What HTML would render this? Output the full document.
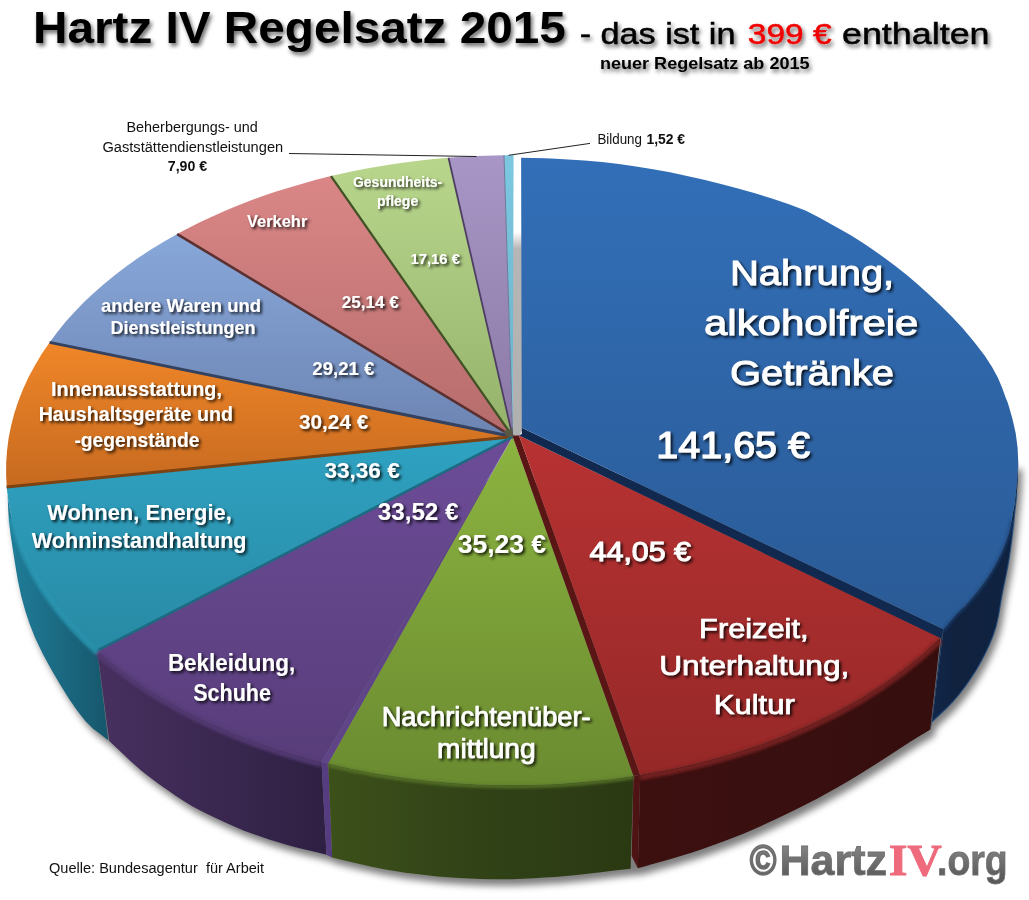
<!DOCTYPE html>
<html><head><meta charset="utf-8"><title>Hartz IV Regelsatz 2015</title>
<style>html,body{margin:0;padding:0;background:#fff;}svg{display:block;font-family:"Liberation Sans",sans-serif;}</style>
</head><body>
<svg width="1029" height="900" viewBox="0 0 1029 900">
<defs>
<filter id="blur8" x="-10%" y="-10%" width="120%" height="120%"><feGaussianBlur stdDeviation="3.5"/></filter>
<linearGradient id="gstrip" x1="0" y1="156" x2="0" y2="437" gradientUnits="userSpaceOnUse"><stop offset="0" stop-color="#ffffff"/><stop offset="0.27" stop-color="#ffffff"/><stop offset="0.33" stop-color="#b6b6b6"/><stop offset="1" stop-color="#b0b0b0"/></linearGradient>
<linearGradient id="t_cyan" x1="0" y1="155.30157526713265" x2="0" y2="436.7" gradientUnits="userSpaceOnUse"><stop offset="0" stop-color="#7cc8e0"/><stop offset="1" stop-color="#6ab0c8"/></linearGradient>
<linearGradient id="t_lpurple" x1="0" y1="155.33934958856992" x2="0" y2="436.7" gradientUnits="userSpaceOnUse"><stop offset="0" stop-color="#a896c6"/><stop offset="1" stop-color="#8a78a6"/></linearGradient>
<linearGradient id="t_lgreen" x1="0" y1="157.79280170934533" x2="0" y2="436.7" gradientUnits="userSpaceOnUse"><stop offset="0" stop-color="#b8d68c"/><stop offset="1" stop-color="#94b26a"/></linearGradient>
<linearGradient id="t_pink" x1="0" y1="176.1424348117214" x2="0" y2="436.7" gradientUnits="userSpaceOnUse"><stop offset="0" stop-color="#da8686"/><stop offset="1" stop-color="#b66c6c"/></linearGradient>
<linearGradient id="t_lblue" x1="0" y1="234.08518140149738" x2="0" y2="436.7" gradientUnits="userSpaceOnUse"><stop offset="0" stop-color="#88a8da"/><stop offset="1" stop-color="#6c84b2"/></linearGradient>
<linearGradient id="t_orange" x1="0" y1="342.3839270958982" x2="0" y2="487.00926792572034" gradientUnits="userSpaceOnUse"><stop offset="0" stop-color="#f08628"/><stop offset="1" stop-color="#c66a20"/></linearGradient>
<linearGradient id="w_teal" x1="7" y1="0" x2="110" y2="0" gradientUnits="userSpaceOnUse"><stop offset="0" stop-color="#207e9a"/><stop offset="1" stop-color="#16566b"/></linearGradient>
<linearGradient id="w_purple" x1="100" y1="0" x2="330" y2="0" gradientUnits="userSpaceOnUse"><stop offset="0" stop-color="#47305f"/><stop offset="1" stop-color="#2e2042"/></linearGradient>
<linearGradient id="w_green" x1="330" y1="0" x2="632" y2="0" gradientUnits="userSpaceOnUse"><stop offset="0" stop-color="#3c501a"/><stop offset="0.5" stop-color="#314217"/><stop offset="1" stop-color="#2b3913"/></linearGradient>
<linearGradient id="w_red" x1="637" y1="0" x2="941" y2="0" gradientUnits="userSpaceOnUse"><stop offset="0" stop-color="#3d1010"/><stop offset="1" stop-color="#360e0e"/></linearGradient>
<linearGradient id="w_blue" x1="930" y1="0" x2="1018" y2="0" gradientUnits="userSpaceOnUse"><stop offset="0" stop-color="#11264a"/><stop offset="0.3" stop-color="#10223e"/><stop offset="1" stop-color="#0f2240"/></linearGradient>
<linearGradient id="t_teal" x1="0" y1="436.7" x2="0" y2="650.5583651108609" gradientUnits="userSpaceOnUse"><stop offset="0" stop-color="#2fa2c2"/><stop offset="1" stop-color="#288aa4"/></linearGradient>
<linearGradient id="t_purple" x1="0" y1="436.7" x2="0" y2="761.9406647277731" gradientUnits="userSpaceOnUse"><stop offset="0" stop-color="#6c4c98"/><stop offset="1" stop-color="#583d7a"/></linearGradient>
<linearGradient id="t_green" x1="0" y1="437" x2="0" y2="790" gradientUnits="userSpaceOnUse"><stop offset="0" stop-color="#8cb440"/><stop offset="1" stop-color="#6a8a30"/></linearGradient>
<linearGradient id="t_red" x1="0" y1="435.6" x2="0" y2="774.821440170264" gradientUnits="userSpaceOnUse"><stop offset="0" stop-color="#b83232"/><stop offset="1" stop-color="#962828"/></linearGradient>
<linearGradient id="t_blue" x1="0" y1="157" x2="0" y2="640" gradientUnits="userSpaceOnUse"><stop offset="0" stop-color="#326fb8"/><stop offset="1" stop-color="#2a5a95"/></linearGradient>
<filter id="blur2" x="-5%" y="-5%" width="110%" height="110%"><feGaussianBlur stdDeviation="1.6"/></filter>
<filter id="sh" x="-5%" y="-20%" width="110%" height="150%"><feGaussianBlur in="SourceAlpha" stdDeviation="1.6"/><feOffset dx="1.5" dy="2"/><feComponentTransfer><feFuncA type="linear" slope="0.85"/></feComponentTransfer><feMerge><feMergeNode/><feMergeNode in="SourceGraphic"/></feMerge></filter>
<filter id="sh2" x="-5%" y="-20%" width="110%" height="160%"><feGaussianBlur in="SourceAlpha" stdDeviation="2.2"/><feOffset dx="2" dy="3"/><feComponentTransfer><feFuncA type="linear" slope="0.6"/></feComponentTransfer><feMerge><feMergeNode/><feMergeNode in="SourceGraphic"/></feMerge></filter>
<linearGradient id="logo" x1="0" y1="845" x2="0" y2="878" gradientUnits="userSpaceOnUse"><stop offset="0" stop-color="#848484"/><stop offset="1" stop-color="#5a5a5a"/></linearGradient>
</defs>
<rect width="1029" height="900" fill="#fff"/>
<path d="M7.5 487.0 L7.7 496.2 L8.0 505.4 L8.5 515.0 L9.4 524.6 L10.6 534.7 L12.4 546.7 L14.8 562.2 L17.7 579.7 L21.3 596.4 L25.3 611.0 L29.9 624.8 L35.6 639.0 L43.1 654.5 L51.7 670.3 L60.4 685.0 L68.8 698.4 L77.1 710.6 L85.3 721.0 L93.1 728.7 L100.8 734.5 L108.4 740.4 L109.2 741.0 L120.1 751.2 L130.9 761.4 L141.1 770.4 L150.1 777.6 L158.4 783.7 L166.7 789.5 L175.2 795.4 L183.7 801.0 L192.2 806.2 L200.7 810.8 L209.3 815.0 L217.8 819.0 L226.3 823.0 L234.9 826.8 L243.4 830.4 L251.9 833.6 L260.5 836.6 L269.0 839.4 L277.3 842.0 L285.5 844.5 L294.5 847.0 L304.7 849.6 L315.6 852.1 L326.5 854.7 L332.2 857.4 L338.3 858.9 L344.5 860.4 L352.0 862.2 L361.8 864.5 L372.9 867.0 L384.1 869.3 L394.8 871.1 L405.5 872.7 L416.2 874.1 L426.9 875.3 L437.6 876.4 L448.3 877.3 L459.0 878.0 L469.7 878.5 L480.4 878.9 L491.1 879.2 L501.7 879.3 L512.4 879.2 L523.1 878.8 L533.8 878.3 L544.5 877.6 L555.2 876.9 L565.9 876.1 L576.6 875.1 L587.6 873.8 L598.7 872.4 L608.6 871.2 L616.7 870.3 L623.6 869.5 L630.6 868.8 L637.8 868.3 L645.2 866.2 L652.7 864.1 L661.0 861.7 L670.8 858.9 L681.5 855.7 L692.2 852.4 L702.6 848.9 L712.9 845.3 L723.3 841.5 L733.7 837.5 L744.0 833.4 L754.4 829.0 L764.8 824.3 L775.1 819.4 L785.5 814.4 L795.9 809.4 L806.2 804.2 L816.6 798.9 L827.0 793.3 L837.3 787.5 L847.7 781.5 L858.1 775.2 L868.4 768.8 L878.8 762.2 L889.6 755.2 L900.3 748.2 L909.9 742.0 L917.5 737.3 L923.9 733.4 L930.3 729.5 L932.0 721.7 L939.2 715.0 L946.5 708.2 L953.3 701.2 L959.6 693.7 L965.5 685.9 L971.0 678.0 L976.2 670.0 L980.9 661.7 L985.3 653.3 L989.3 644.8 L992.9 636.1 L996.0 626.6 L998.5 615.7 L1000.4 604.1 L1002.3 593.3 L1004.2 583.9 L1006.0 575.3 L1007.7 566.7 L1009.2 557.9 L1010.5 549.1 L1011.7 540.0 L1012.9 530.1 L1014.0 519.8 L1015.0 510.0 L1016.0 501.2 L1016.8 492.9 L1017.5 485.0 L1017.9 477.4 L1018.1 470.0 L1018.3 462.7Z" fill="#000" opacity="0.5" transform="translate(4,6.5)" filter="url(#blur8)"/>
<path d="M513 156 L522 156 L522 430 L519.5 436 L513 438Z" fill="url(#gstrip)"/>
<path d="M512.7 436.7 L513.6 155.3 L508.8 155.3 L504.0 155.3Z" fill="url(#t_cyan)"/>
<path d="M512.7 436.7 L504.0 155.3 L494.7 155.5 L485.4 155.7 L476.2 156.1 L466.9 156.6 L457.7 157.1 L448.5 157.8Z" fill="url(#t_lpurple)"/>
<path d="M512.7 436.7 L448.5 157.8 L436.4 158.8 L424.4 160.0 L412.5 161.4 L400.6 163.0 L388.8 164.8 L377.1 166.7 L365.4 168.8 L353.8 171.1 L342.4 173.5 L331.0 176.1Z" fill="url(#t_lgreen)"/>
<path d="M512.7 436.7 L331.0 176.1 L317.0 179.6 L303.2 183.4 L289.6 187.4 L276.1 191.6 L262.9 196.1 L249.9 200.8 L237.2 205.8 L224.6 211.0 L212.4 216.4 L200.4 222.1 L188.6 228.0 L177.2 234.1Z" fill="url(#t_pink)"/>
<path d="M512.7 436.7 L177.2 234.1 L163.8 241.7 L150.9 249.6 L138.4 257.8 L126.5 266.3 L115.0 275.0 L104.0 284.0 L93.5 293.2 L83.6 302.6 L74.3 312.3 L65.4 322.1 L57.2 332.2 L49.6 342.4Z" fill="url(#t_lblue)"/>
<path d="M512.7 436.7 L49.6 342.4 L41.8 353.8 L34.9 365.4 L28.6 377.1 L23.1 389.0 L18.4 401.0 L14.4 413.1 L11.2 425.3 L8.7 437.6 L7.1 449.9 L6.2 462.3 L6.1 474.6 L6.7 487.0Z" fill="url(#t_orange)"/>
<path d="M6.7 487.0 L8.5 501.6 L11.4 516.1 L15.3 530.4 L20.4 544.7 L26.4 558.8 L33.6 572.7 L41.7 586.4 L50.9 599.9 L61.0 613.0 L72.2 625.9 L84.2 638.4 L97.2 650.6 L108.4 740.4 L100.8 734.5 L93.1 728.7 L85.3 721.0 L77.1 710.6 L68.8 698.4 L60.4 685.0 L51.7 670.3 L43.1 654.5 L35.6 639.0 L29.9 624.8 L25.3 611.0 L21.3 596.4 L17.7 579.7 L14.8 562.2 L12.4 546.7 L10.6 534.7 L9.4 524.6 L8.5 515.0 L8.0 505.4 L7.7 496.2 L7.5 487.0Z" fill="url(#w_teal)"/>
<path d="M97.2 650.6 L111.6 662.7 L126.9 674.4 L143.0 685.7 L160.0 696.4 L177.8 706.7 L196.4 716.4 L215.7 725.5 L235.7 734.0 L256.3 742.0 L277.6 749.3 L299.3 755.9 L321.5 761.9 L326.5 854.7 L315.6 852.1 L304.7 849.6 L294.5 847.0 L285.5 844.5 L277.3 842.0 L269.0 839.4 L260.5 836.6 L251.9 833.6 L243.4 830.4 L234.9 826.8 L226.3 823.0 L217.8 819.0 L209.3 815.0 L200.7 810.8 L192.2 806.2 L183.7 801.0 L175.2 795.4 L166.7 789.5 L158.4 783.7 L150.1 777.6 L141.1 770.4 L130.9 761.4 L120.1 751.2 L109.2 741.0Z" fill="url(#w_purple)"/>
<path d="M321.5 761.9 L328.3 763.6 L332.2 857.4 L326.5 854.7Z" fill="#563c80"/>
<path d="M328.3 763.6 L352.6 769.1 L377.4 773.8 L402.5 777.6 L427.9 780.7 L453.5 783.0 L479.3 784.4 L505.2 785.1 L531.1 784.9 L556.9 783.9 L582.6 782.0 L608.2 779.4 L633.5 775.9 L630.6 868.8 L623.6 869.5 L616.7 870.3 L608.6 871.2 L598.7 872.4 L587.6 873.8 L576.6 875.1 L565.9 876.1 L555.2 876.9 L544.5 877.6 L533.8 878.3 L523.1 878.8 L512.4 879.2 L501.7 879.3 L491.1 879.2 L480.4 878.9 L469.7 878.5 L459.0 878.0 L448.3 877.3 L437.6 876.4 L426.9 875.3 L416.2 874.1 L405.5 872.7 L394.8 871.1 L384.1 869.3 L372.9 867.0 L361.8 864.5 L352.0 862.2 L344.5 860.4 L338.3 858.9 L332.2 857.4Z" fill="url(#w_green)"/>
<path d="M633.5 775.9 L640.2 774.8 L637.8 868.3 L631.7 856.0Z" fill="#4e1313"/>
<path d="M640.2 774.8 L670.7 769.2 L700.5 762.4 L729.6 754.5 L757.9 745.4 L785.1 735.3 L811.3 724.1 L836.3 711.9 L860.1 698.8 L882.4 684.7 L903.3 669.8 L922.7 654.2 L940.4 637.8 L930.3 729.5 L923.9 733.4 L917.5 737.3 L909.9 742.0 L900.3 748.2 L889.6 755.2 L878.8 762.2 L868.4 768.8 L858.1 775.2 L847.7 781.5 L837.3 787.5 L827.0 793.3 L816.6 798.9 L806.2 804.2 L795.9 809.4 L785.5 814.4 L775.1 819.4 L764.8 824.3 L754.4 829.0 L744.0 833.4 L733.7 837.5 L723.3 841.5 L712.9 845.3 L702.6 848.9 L692.2 852.4 L681.5 855.7 L670.8 858.9 L661.0 861.7 L652.7 864.1 L645.2 866.2 L637.8 868.3Z" fill="url(#w_red)"/>
<path d="M943.5 629.3 L946.5 625.6 L949.5 621.9 L952.6 618.3 L955.7 614.7 L958.8 611.5 L961.9 608.6 L965.3 605.4 L969.0 601.3 L973.4 596.0 L978.4 590.0 L983.3 583.5 L987.7 577.3 L991.5 571.2 L995.0 565.1 L998.2 559.1 L1001.0 553.3 L1003.4 547.8 L1005.5 542.6 L1007.3 537.5 L1009.0 532.0 L1010.5 525.9 L1011.8 519.5 L1012.9 513.3 L1013.8 508.0 L1014.5 504.4 L1014.9 501.9 L1015.2 499.1 L1015.7 494.7 L1016.3 488.0 L1017.0 479.9 L1017.6 471.1 L1018.3 462.7 L1018.3 462.7 L1018.1 470.0 L1017.9 477.4 L1017.5 485.0 L1016.8 492.9 L1016.0 501.2 L1015.0 510.0 L1014.0 519.8 L1012.9 530.1 L1011.7 540.0 L1010.5 549.1 L1009.2 557.9 L1007.7 566.7 L1006.0 575.3 L1004.2 583.9 L1002.3 593.3 L1000.4 604.1 L998.5 615.7 L996.0 626.6 L992.9 636.1 L989.3 644.8 L985.3 653.3 L980.9 661.7 L976.2 670.0 L971.0 678.0 L965.5 685.9 L959.6 693.7 L953.3 701.2 L946.5 708.2 L939.2 715.0 L932.0 721.7Z" fill="url(#w_blue)"/>
<path d="M943.5 629.3 L941.2 638.0 L930.5 730.0 L932.0 721.7Z" fill="#15345e"/>
<path d="M512.7 436.7 L6.7 487.0 L8.5 501.6 L11.4 516.1 L15.3 530.4 L20.4 544.7 L26.4 558.8 L33.6 572.7 L41.7 586.4 L50.9 599.9 L61.0 613.0 L72.2 625.9 L84.2 638.4 L97.2 650.6Z" fill="url(#t_teal)"/>
<path d="M512.7 436.7 L97.2 650.6 L111.6 662.7 L126.9 674.4 L143.0 685.7 L160.0 696.4 L177.8 706.7 L196.4 716.4 L215.7 725.5 L235.7 734.0 L256.3 742.0 L277.6 749.3 L299.3 755.9 L321.5 761.9Z" fill="url(#t_purple)"/>
<path d="M512.7 436.7 L321.5 761.9 L328.3 763.6Z" fill="#5f4488"/>
<path d="M512.7 436.7 L328.3 763.6 L352.6 769.1 L377.4 773.8 L402.5 777.6 L427.9 780.7 L453.5 783.0 L479.3 784.4 L505.2 785.1 L531.1 784.9 L556.9 783.9 L582.6 782.0 L608.2 779.4 L633.5 775.9Z" fill="url(#t_green)"/>
<path d="M512.7 436.7 L633.5 775.9 L640.2 774.8 L519.0 435.6 L513.0 435.6Z" fill="#5a1515"/>
<path d="M519.0 435.6 L640.2 774.8 L670.7 769.2 L700.5 762.4 L729.6 754.5 L757.9 745.4 L785.1 735.3 L811.3 724.1 L836.3 711.9 L860.1 698.8 L882.4 684.7 L903.3 669.8 L922.7 654.2 L940.4 637.8Z" fill="url(#t_red)"/>
<path d="M521.8 427.8 L943.5 629.3 L941.2 638.5 L519.0 435.6 L521.8 434.0Z" fill="#11294e"/>
<path d="M521.8 427.8 L943.5 629.3 L949.5 621.9 L955.7 614.7 L961.9 608.6 L969.0 601.3 L978.4 590.0 L987.7 577.3 L995.0 565.1 L1001.0 553.3 L1005.5 542.6 L1009.0 532.0 L1011.8 519.5 L1013.8 508.0 L1014.9 501.9 L1015.7 494.7 L1017.3 479.7 L1018.3 462.7 L1017.6 447.7 L1015.7 433.3 L1012.4 418.7 L1009.0 406.7 L1007.4 401.8 L1005.7 397.8 L1002.4 388.6 L997.9 377.8 L992.2 367.2 L984.6 355.6 L974.0 341.7 L962.3 327.8 L951.2 315.9 L940.1 304.9 L929.0 294.4 L917.9 284.4 L906.8 275.0 L895.7 266.2 L884.6 257.9 L873.4 250.0 L862.3 242.6 L851.2 235.6 L840.2 229.2 L829.0 223.0 L818.2 216.9 L806.0 210.8 L789.7 204.5 L772.0 198.5 L755.0 193.3 L738.0 188.6 L721.0 184.1 L704.0 179.8 L687.0 175.9 L670.0 172.3 L653.0 169.2 L636.0 166.5 L619.0 164.1 L602.0 162.1 L584.3 160.5 L568.0 159.4 L555.9 158.7 L545.0 158.2 L533.1 157.9 L521.1 157.7Z" fill="url(#t_blue)"/>
<path d="M512.7 436.7 L504.0 155.3" stroke="#6a7a9a" stroke-width="1.0" fill="none"/>
<path d="M512.7 436.7 L448.5 157.8" stroke="#4e3e64" stroke-width="1.8" fill="none"/>
<path d="M512.7 436.7 L331.0 176.1" stroke="#425226" stroke-width="2.3" fill="none"/>
<path d="M512.7 436.7 L177.2 234.1" stroke="#5a3030" stroke-width="2.6" fill="none"/>
<path d="M512.7 436.7 L49.6 342.4" stroke="#34425f" stroke-width="3.0" fill="none"/>
<path d="M512.7 436.7 L6.7 487.0" stroke="#7c4212" stroke-width="3.0" fill="none"/>
<path d="M512.7 436.7 L97.2 650.6" stroke="#1d6a82" stroke-width="2.6" fill="none"/>
<path d="M503.5 431 L512.7 428 L512.7 437.5 L506 436 Z" fill="#5a5a44" opacity="0.85"/>
<g filter="url(#blur2)" opacity="0.9"><path d="M11.4 516.1 L15.3 530.4 L20.4 544.7 L26.4 558.8 L33.6 572.7 L41.7 586.4 L50.9 599.9 L61.0 613.0 L72.2 625.9 L84.2 638.4 L97.2 650.6" fill="none" stroke="#2a98b4" stroke-width="5" transform="translate(0,2.0)"/><path d="M97.2 650.6 L111.6 662.7 L126.9 674.4 L143.0 685.7 L160.0 696.4 L177.8 706.7 L196.4 716.4 L215.7 725.5 L235.7 734.0 L256.3 742.0 L277.6 749.3 L299.3 755.9 L321.5 761.9" fill="none" stroke="#553b76" stroke-width="6" transform="translate(0,2.4000000000000004)"/><path d="M328.3 763.6 L352.6 769.1 L377.4 773.8 L402.5 777.6 L427.9 780.7 L453.5 783.0 L479.3 784.4 L505.2 785.1 L531.1 784.9 L556.9 783.9 L582.6 782.0 L608.2 779.4 L633.5 775.9" fill="none" stroke="#5c7a2a" stroke-width="3.5" transform="translate(0,1.4000000000000001)"/><path d="M640.2 774.8 L670.7 769.2 L700.5 762.4 L729.6 754.5 L757.9 745.4 L785.1 735.3 L811.3 724.1 L836.3 711.9 L860.1 698.8 L882.4 684.7 L903.3 669.8 L922.7 654.2 L940.4 637.8" fill="none" stroke="#7a2020" stroke-width="6" transform="translate(0,2.4000000000000004)"/><path d="M943.5 629.3 L946.5 625.6 L949.5 621.9 L952.6 618.3 L955.7 614.7 L958.8 611.5 L961.9 608.6 L965.3 605.4 L969.0 601.3 L973.4 596.0 L978.4 590.0 L983.3 583.5 L987.7 577.3 L991.5 571.2 L995.0 565.1 L998.2 559.1 L1001.0 553.3 L1003.4 547.8 L1005.5 542.6 L1007.3 537.5 L1009.0 532.0 L1010.5 525.9 L1011.8 519.5" fill="none" stroke="#1d4478" stroke-width="2.5" transform="translate(0,1.0)"/></g>
<path d="M932.0 721.7 L939.2 715.0 L946.5 708.2 L953.3 701.2 L959.6 693.7 L965.5 685.9 L971.0 678.0 L976.2 670.0 L980.9 661.7 L985.3 653.3 L989.3 644.8 L992.9 636.1 L996.0 626.6 L998.5 615.7 L1000.4 604.1 L1002.3 593.3 L1004.2 583.9 L1006.0 575.3 L1007.7 566.7 L1009.2 557.9 L1010.5 549.1 L1011.7 540.0 L1012.9 530.1 L1014.0 519.8 L1015.0 510.0 L1016.0 501.2 L1016.8 492.9" fill="none" stroke="#1f4a80" stroke-width="1.2" opacity="0.8"/>
<path d="M289 153.5 L476.5 156.5" stroke="#222" stroke-width="1" fill="none"/>
<path d="M508.5 155.3 L590 143.4" stroke="#222" stroke-width="1" fill="none"/>
<g filter="url(#sh)"><text x="730.0" y="284.5" font-size="35.03" font-weight="normal" fill="#fff" textLength="164.2" lengthAdjust="spacingAndGlyphs" font-family="Liberation Sans" stroke="#fff" stroke-width="0.9" >Nahrung,</text><text x="704.0" y="335.0" font-size="35.03" font-weight="normal" fill="#fff" textLength="214.4" lengthAdjust="spacingAndGlyphs" font-family="Liberation Sans" stroke="#fff" stroke-width="0.9" >alkoholfreie</text><text x="730.0" y="385.3" font-size="35.03" font-weight="normal" fill="#fff" textLength="164.0" lengthAdjust="spacingAndGlyphs" font-family="Liberation Sans" stroke="#fff" stroke-width="0.9" >Getränke</text><text x="656.3" y="458.0" font-size="37.50" font-weight="normal" fill="#fff" textLength="153.7" lengthAdjust="spacingAndGlyphs" font-family="Liberation Sans" stroke="#fff" stroke-width="1.2" >141,65 €</text><text x="699.1" y="637.5" font-size="27.91" font-weight="normal" fill="#fff" textLength="109.4" lengthAdjust="spacingAndGlyphs" font-family="Liberation Sans" stroke="#fff" stroke-width="0.7" >Freizeit,</text><text x="659.2" y="675.1" font-size="27.91" font-weight="normal" fill="#fff" textLength="190.1" lengthAdjust="spacingAndGlyphs" font-family="Liberation Sans" stroke="#fff" stroke-width="0.7" >Unterhaltung,</text><text x="713.7" y="713.9" font-size="27.91" font-weight="normal" fill="#fff" textLength="81.1" lengthAdjust="spacingAndGlyphs" font-family="Liberation Sans" stroke="#fff" stroke-width="0.7" >Kultur</text><text x="589.6" y="560.9" font-size="27.18" font-weight="normal" fill="#fff" textLength="101.4" lengthAdjust="spacingAndGlyphs" font-family="Liberation Sans" stroke="#fff" stroke-width="1.0" >44,05 €</text><text x="381.7" y="726.2" font-size="26.89" font-weight="normal" fill="#fff" textLength="208.9" lengthAdjust="spacingAndGlyphs" font-family="Liberation Sans" stroke="#fff" stroke-width="0.7" >Nachrichtenüber-</text><text x="437.1" y="757.8" font-size="26.89" font-weight="normal" fill="#fff" textLength="98.6" lengthAdjust="spacingAndGlyphs" font-family="Liberation Sans" stroke="#fff" stroke-width="0.7" >mittlung</text><text x="457.8" y="553.0" font-size="25.44" font-weight="bold" fill="#fff" textLength="88.2" lengthAdjust="spacingAndGlyphs" font-family="Liberation Sans" >35,23 €</text><text x="167.9" y="671.3" font-size="24.71" font-weight="bold" fill="#fff" textLength="127.3" lengthAdjust="spacingAndGlyphs" font-family="Liberation Sans" >Bekleidung,</text><text x="193.2" y="700.5" font-size="24.71" font-weight="bold" fill="#fff" textLength="77.7" lengthAdjust="spacingAndGlyphs" font-family="Liberation Sans" >Schuhe</text><text x="377.7" y="520.4" font-size="23.69" font-weight="bold" fill="#fff" textLength="80.9" lengthAdjust="spacingAndGlyphs" font-family="Liberation Sans" >33,52 €</text><text x="47.2" y="519.7" font-size="21.51" font-weight="bold" fill="#fff" textLength="184.7" lengthAdjust="spacingAndGlyphs" font-family="Liberation Sans" >Wohnen, Energie,</text><text x="31.7" y="547.7" font-size="21.51" font-weight="bold" fill="#fff" textLength="214.9" lengthAdjust="spacingAndGlyphs" font-family="Liberation Sans" >Wohninstandhaltung</text><text x="324.4" y="478.0" font-size="21.51" font-weight="bold" fill="#fff" textLength="75.4" lengthAdjust="spacingAndGlyphs" font-family="Liberation Sans" >33,36 €</text><text x="51.0" y="395.5" font-size="19.91" font-weight="bold" fill="#fff" textLength="171.0" lengthAdjust="spacingAndGlyphs" font-family="Liberation Sans" >Innenausstattung,</text><text x="38.7" y="421.0" font-size="19.91" font-weight="bold" fill="#fff" textLength="194.3" lengthAdjust="spacingAndGlyphs" font-family="Liberation Sans" >Haushaltsgeräte und</text><text x="74.4" y="447.0" font-size="19.91" font-weight="bold" fill="#fff" textLength="125.2" lengthAdjust="spacingAndGlyphs" font-family="Liberation Sans" >-gegenstände</text><text x="299.0" y="428.5" font-size="20.93" font-weight="bold" fill="#fff" textLength="69.3" lengthAdjust="spacingAndGlyphs" font-family="Liberation Sans" >30,24 €</text><text x="100.9" y="311.9" font-size="18.02" font-weight="bold" fill="#fff" textLength="160.1" lengthAdjust="spacingAndGlyphs" font-family="Liberation Sans" >andere Waren und</text><text x="110.6" y="334.4" font-size="18.02" font-weight="bold" fill="#fff" textLength="145.0" lengthAdjust="spacingAndGlyphs" font-family="Liberation Sans" >Dienstleistungen</text><text x="312.3" y="375.2" font-size="19.19" font-weight="bold" fill="#fff" textLength="62.2" lengthAdjust="spacingAndGlyphs" font-family="Liberation Sans" >29,21 €</text><text x="247.0" y="226.5" font-size="16.72" font-weight="bold" fill="#fff" textLength="60.3" lengthAdjust="spacingAndGlyphs" font-family="Liberation Sans" >Verkehr</text><text x="341.7" y="308.2" font-size="15.84" font-weight="bold" fill="#fff" textLength="57.1" lengthAdjust="spacingAndGlyphs" font-family="Liberation Sans" >25,14 €</text><text x="353.0" y="187.4" font-size="14.10" font-weight="bold" fill="#fff" textLength="89.2" lengthAdjust="spacingAndGlyphs" font-family="Liberation Sans" >Gesundheits-</text><text x="377.0" y="206.0" font-size="14.10" font-weight="bold" fill="#fff" textLength="41.2" lengthAdjust="spacingAndGlyphs" font-family="Liberation Sans" >pflege</text><text x="410.5" y="263.7" font-size="14.97" font-weight="bold" fill="#fff" textLength="49.5" lengthAdjust="spacingAndGlyphs" font-family="Liberation Sans" >17,16 €</text></g>
<text x="126.5" y="132.0" font-size="14.53" font-weight="normal" fill="#111" textLength="131.2" lengthAdjust="spacingAndGlyphs" font-family="Liberation Sans" >Beherbergungs- und</text><text x="102.4" y="151.9" font-size="14.53" font-weight="normal" fill="#111" textLength="180.8" lengthAdjust="spacingAndGlyphs" font-family="Liberation Sans" >Gaststättendienstleistungen</text><text x="167.8" y="171.0" font-size="13.81" font-weight="bold" fill="#111" textLength="39.4" lengthAdjust="spacingAndGlyphs" font-family="Liberation Sans" >7,90 €</text><text x="597.4" y="144.2" font-size="13.95" font-weight="normal" fill="#111" textLength="44.6" lengthAdjust="spacingAndGlyphs" font-family="Liberation Sans" >Bildung</text><text x="646.4" y="144.2" font-size="13.95" font-weight="bold" fill="#111" textLength="38.7" lengthAdjust="spacingAndGlyphs" font-family="Liberation Sans" >1,52 €</text><text x="49.0" y="873.0" font-size="14.83" font-weight="normal" fill="#111" textLength="215.1" lengthAdjust="spacingAndGlyphs" font-family="Liberation Sans" xml:space="preserve">Quelle: Bundesagentur  für Arbeit</text>
<g filter="url(#sh2)"><text x="33.0" y="42.5" font-size="43.60" font-weight="bold" fill="#000" textLength="532.8" lengthAdjust="spacingAndGlyphs" font-family="Liberation Sans" >Hartz IV Regelsatz 2015</text><text x="579.7" y="43.5" font-size="29.94" font-weight="normal" fill="#000" textLength="155.8" lengthAdjust="spacingAndGlyphs" font-family="Liberation Sans" stroke="#000" stroke-width="0.5" >- das ist in</text><text x="747.8" y="43.5" font-size="29.94" font-weight="normal" fill="#f00000" textLength="83.8" lengthAdjust="spacingAndGlyphs" font-family="Liberation Sans" stroke="#f00000" stroke-width="0.5" >399 €</text><text x="842.0" y="43.5" font-size="29.94" font-weight="normal" fill="#000" textLength="147.5" lengthAdjust="spacingAndGlyphs" font-family="Liberation Sans" stroke="#000" stroke-width="0.5" >enthalten</text><text x="600.0" y="69.4" font-size="16.28" font-weight="bold" fill="#000" textLength="209.5" lengthAdjust="spacingAndGlyphs" font-family="Liberation Sans" >neuer Regelsatz ab 2015</text></g>
<text x="749.8" y="875.2" font-size="42.15" font-weight="bold" fill="url(#logo)" textLength="26.7" lengthAdjust="spacingAndGlyphs" font-family="Liberation Sans" stroke="#6e6e6e" stroke-width="1.6">©</text><text x="779.4" y="875.2" font-size="42.15" font-weight="bold" fill="url(#logo)" textLength="107.6" lengthAdjust="spacingAndGlyphs" font-family="Liberation Sans" stroke="#6e6e6e" stroke-width="0.8">Hartz</text><text x="889.0" y="875.2" font-size="44.33" font-weight="bold" fill="#ee6a7c" textLength="52.5" lengthAdjust="spacingAndGlyphs" font-family="Liberation Serif" stroke="#ee6a7c" stroke-width="1">IV</text><text x="937.0" y="875.2" font-size="42.15" font-weight="bold" fill="url(#logo)" textLength="70.6" lengthAdjust="spacingAndGlyphs" font-family="Liberation Sans" stroke="#6e6e6e" stroke-width="0.8">.org</text>
</svg>
</body></html>
